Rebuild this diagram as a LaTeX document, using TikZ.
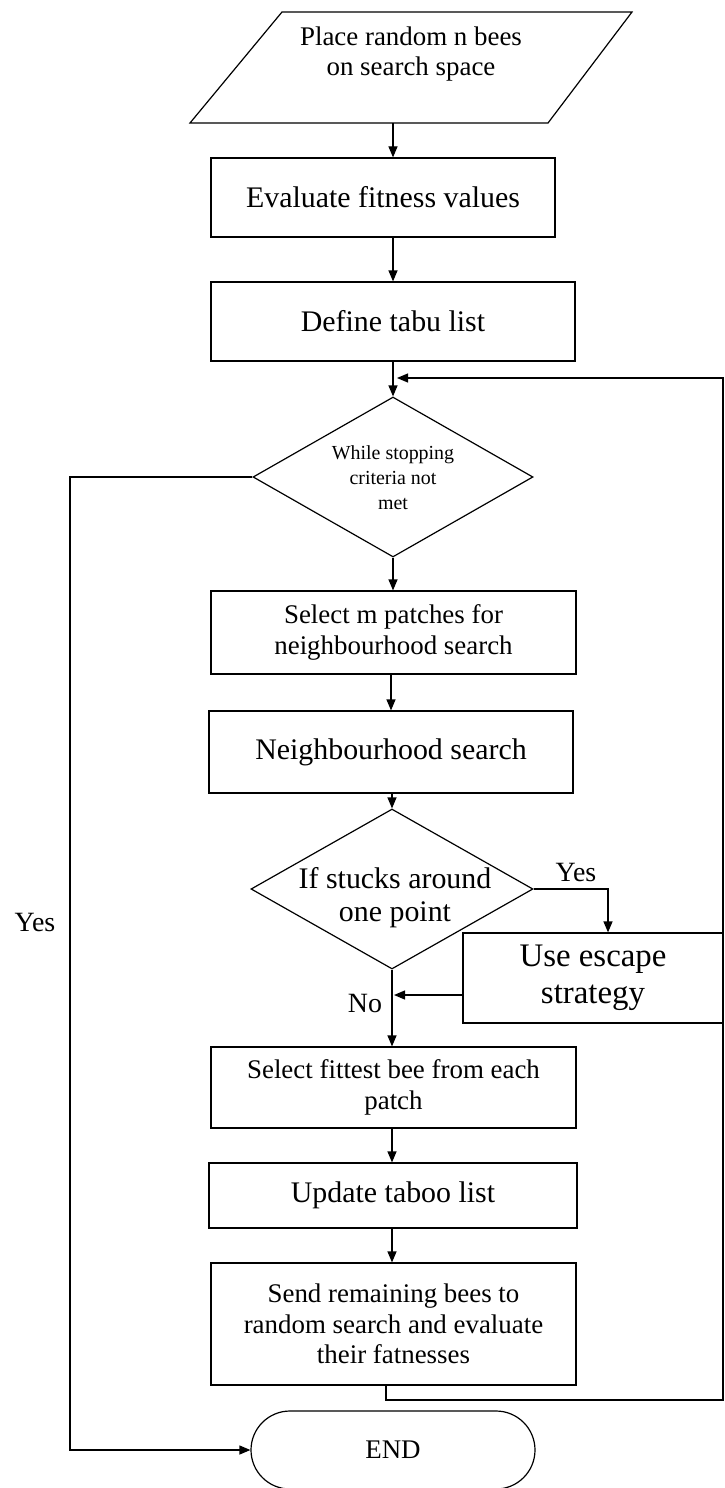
\documentclass[tikz,border=0pt]{standalone}
\usepackage{fontspec}
\setmainfont{Liberation Serif}
\usetikzlibrary{arrows.meta,shapes.geometric}
\begin{document}
\begin{tikzpicture}[x=1bp,y=-1bp,line width=1.2bp,
  box/.style={draw, rectangle, inner sep=0pt, align=center},
  decision/.style={draw, diamond, inner sep=0pt},
  plain/.style={inner sep=0pt, align=center},
  flow/.style={-{Triangle[length=11bp,width=9bp]}},
  fA/.style={font=\fontsize{27}{30.5}\selectfont},
  fB/.style={font=\fontsize{30}{33}\selectfont},
  fC/.style={font=\fontsize{33}{37}\selectfont},
  fS/.style={font=\fontsize{20}{25}\selectfont},
  fL/.style={font=\fontsize{28}{30}\selectfont}]
\useasboundingbox (0,0) rectangle (725,1488);

% input: place the bees
\draw (282,12) -- (632,12) -- (548,123) -- (190,123) -- cycle;
\node[plain, fA] (place) at (411,54) {Place random n bees\\on search space};
\coordinate (placeS) at (393,123);

% main column of steps
\node[box, fB, minimum width=344bp, minimum height=79bp] (eval) at (383,197.5) {Evaluate fitness values};
\node[box, fB, minimum width=364bp, minimum height=79bp] (tabu) at (393,321.5) {Define tabu list};
\node[decision, minimum width=280bp, minimum height=160bp] (stop) at (393,477) {};
\node[plain, fS] (stopt) at (393,478) {While stopping\\criteria not\\met};
\node[box, fA, minimum width=365bp, minimum height=83bp] (selm) at (393.5,632.5) {Select m patches for\\neighbourhood search};
\node[box, fB, minimum width=364bp, minimum height=82bp] (nbh) at (391,752) {Neighbourhood search};
\node[decision, minimum width=282bp, minimum height=160bp] (stuck) at (392,889) {};
\node[plain, fB] (stuckt) at (395,898) {If stucks around\\one point};
\node[box, fC, minimum width=260bp, minimum height=90bp] (esc) at (593,978) {Use escape\\strategy};
\node[box, fA, minimum width=365bp, minimum height=81bp] (fit) at (393.5,1087.5) {Select fittest bee from each\\patch};
\node[box, fB, minimum width=368bp, minimum height=65bp] (upd) at (393,1195.5) {Update taboo list};
\node[box, fA, minimum width=365bp, minimum height=122bp] (send) at (393.5,1324) {Send remaining bees to\\random search and evaluate\\their fatnesses};
\node[draw, rectangle, rounded corners=39bp, minimum width=284bp, minimum height=78bp, fA] (end) at (393,1450) {END};

% branch labels
\node[plain, fL] (yesL) at (35,922) {Yes};
\node[plain, fL] (yesR) at (576,872) {Yes};
\node[plain, fL] (no) at (365,1003) {No};

% helper points for bends
\coordinate (loopIn) at (393,378);
\coordinate (noIn) at (392,995);
\coordinate (escIn) at (608,889);
\coordinate (sendOut) at (386,1400);
\coordinate (rightRail) at (723,1400);
\coordinate (leftRail) at (70,477);

% straight flow
\draw[flow] (placeS) -- (placeS |- eval.north);
\draw[flow] (placeS |- eval.south) -- (placeS |- tabu.north);
\draw[flow] (tabu.south) -- (stop.north);
\draw[flow] (stop.south) -- (stop.south |- selm.north);
\draw[flow] (selm.south -| nbh.center) -- (nbh.north);
\draw[flow] (nbh.south -| stuck.center) -- (stuck.north);
\draw (stuck.south) -- (noIn);
\draw[flow] (noIn) -- (noIn |- fit.north);
\draw[flow] (fit.south -| noIn) -- (noIn |- upd.north);
\draw[flow] (upd.south -| noIn) -- (noIn |- send.north);

% escape branch
\draw[flow] (stuck.east) -- (escIn) -- (escIn |- esc.north);
\draw[flow] (esc.west |- noIn) -- ([xshift=2bp]noIn);

% loop back to the stopping test
\draw[flow] (sendOut |- send.south) -- (sendOut) -- (rightRail) -- (rightRail |- loopIn) -- ([xshift=4bp]loopIn);

% exit to END
\draw[flow] (stop.west) -- (leftRail) -- (leftRail |- end.west) -- (end.west);
\end{tikzpicture}
\end{document}
